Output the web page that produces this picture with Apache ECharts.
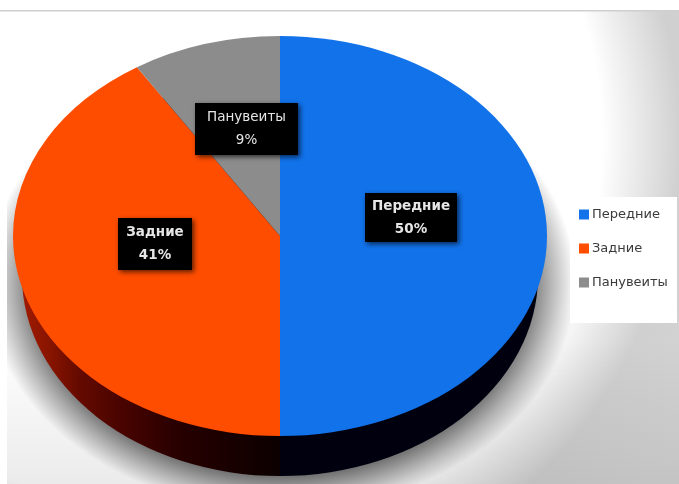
<!DOCTYPE html>
<html>
<head>
<meta charset="utf-8">
<style>html,body{margin:0;padding:0;background:#fff}#chart{width:679px;height:484px}</style>
<script src="https://cdn.jsdelivr.net/npm/echarts@6/dist/echarts.min.js"></script>
</head>
<body>
<div id="chart"></div>
<script>
// Wheel position shares, percent
const categories = ['Передние', 'Задние', 'Панувеиты'];
const shares = [50, 41, 9];
const sliceColors = ['#1172ea', '#ff4d00', '#8c8c8c'];

// Tilted disc geometry
const CX = 280, CY = 236, RX = 267, RY = 200;
const BASE_CY = 276, BASE_RX = 258;
const total = shares.reduce((a, b) => a + b, 0);

// Data label boxes: centre and size, with the weight of the text
const labelBoxes = [
  { x: 411, y: 217.5, w: 92, h: 49, weight: 'bold' },
  { x: 155, y: 244, w: 74, h: 52, weight: 'bold' },
  { x: 246.5, y: 129, w: 103, h: 52, weight: 'normal' }
];

function sliceAngles(i) {
  const before = shares.slice(0, i).reduce((a, b) => a + b, 0);
  const toRad = v => -Math.PI / 2 + (v / total) * Math.PI * 2;
  return { start: toRad(before), end: toRad(before + shares[i]) };
}

function ellipseSector(cy, rx, angles, style) {
  return {
    type: 'sector',
    x: CX, y: cy,
    scaleY: RY / rx,
    shape: { cx: 0, cy: 0, r: rx, r0: 0, startAngle: angles.start, endAngle: angles.end, clockwise: true },
    style
  };
}

// Rim below the top face: the first slice stays near black, the rest fades from dark red
const rimFills = [
  '#00000f',
  {
    type: 'linear', x: 0, y: 0, x2: 1, y2: 0,
    colorStops: [
      { offset: 0, color: '#a01a00' },
      { offset: 0.1, color: '#8a1500' },
      { offset: 0.22, color: '#650a00' },
      { offset: 0.38, color: '#4a0400' },
      { offset: 0.6, color: '#280000' },
      { offset: 0.9, color: '#120000' },
      { offset: 1, color: '#0c0000' }
    ]
  }
];

const rimSeries = {
  type: 'custom',
  name: 'rim',
  coordinateSystem: 'none',
  silent: true,
  z: 3,
  data: [[0]],
  renderItem: () => ({
    type: 'group',
    children: [
      ellipseSector(BASE_CY, BASE_RX, sliceAngles(0), { fill: rimFills[0] }),
      ellipseSector(BASE_CY, BASE_RX,
        { start: sliceAngles(1).start, end: sliceAngles(2).end }, { fill: rimFills[1] })
    ]
  })
};

const sliceSeries = categories.map((name, i) => ({
  type: 'custom',
  name,
  coordinateSystem: 'none',
  silent: true,
  z: 4,
  itemStyle: { color: sliceColors[i] },
  data: [[shares[i]]],
  renderItem: () => ellipseSector(CY, RX, sliceAngles(i), { fill: sliceColors[i] })
}));

const labelSeries = {
  type: 'custom',
  name: 'labels',
  coordinateSystem: 'none',
  silent: true,
  z: 6,
  data: categories.map((name, i) => [i]),
  renderItem: (params, api) => {
    const i = api.value(0);
    const b = labelBoxes[i];
    return {
      type: 'group',
      x: b.x, y: b.y,
      children: [
        {
          type: 'rect',
          shape: { x: -b.w / 2, y: -b.h / 2, width: b.w, height: b.h },
          style: { fill: '#000', shadowBlur: 5, shadowOffsetX: 2, shadowOffsetY: 2, shadowColor: 'rgba(0,0,0,0.65)' }
        },
        {
          type: 'text',
          style: {
            text: categories[i] + '\n' + shares[i] + '%',
            x: 0, y: 0,
            align: 'center', verticalAlign: 'middle',
            fill: '#e6e6e6',
            lineHeight: 23,
            font: b.weight + ' 13.5px "DejaVu Sans", sans-serif'
          }
        }
      ]
    };
  }
};

const chart = echarts.init(document.getElementById('chart'));
chart.setOption({
  animation: false,
  backgroundColor: '#ffffff',
  legend: {
    orient: 'vertical',
    left: 574, top: 203,
    icon: 'rect',
    itemWidth: 10, itemHeight: 10,
    itemGap: 21,
    z: 8,
    selectedMode: false,
    data: categories,
    textStyle: { color: '#3a3a3a', fontSize: 13, fontFamily: '"DejaVu Sans", sans-serif', padding: [0, 0, 0, -2] }
  },
  graphic: [
    {
      type: 'rect', z: 0,
      shape: { x: 7, y: 11, width: 672, height: 473 },
      style: {
        fill: {
          type: 'radial', global: true, x: 210, y: 140, r: 560,
          colorStops: [
            { offset: 0, color: '#ffffff' },
            { offset: 0.7, color: '#ffffff' },
            { offset: 0.84, color: '#d0d0d0' },
            { offset: 1, color: '#d4d4d4' }
          ]
        }
      }
    },
    {
      type: 'rect', z: 0,
      shape: { x: 7, y: 340, width: 672, height: 144 },
      style: {
        fill: {
          type: 'linear', x: 0, y: 0, x2: 0, y2: 1,
          colorStops: [
            { offset: 0, color: 'rgba(0,0,0,0)' },
            { offset: 1, color: 'rgba(0,0,0,0.08)' }
          ]
        }
      }
    },
    {
      // Soft drop shadow spreading out from under the disc
      type: 'circle', z: 1,
      x: 281, y: 283,
      scaleY: 228 / 295,
      shape: { cx: 0, cy: 0, r: 295 },
      style: {
        fill: {
          type: 'radial', x: 0.5, y: 0.5, r: 0.5,
          colorStops: [
            { offset: 0, color: 'rgba(0,0,0,0.55)' },
            { offset: 0.84, color: 'rgba(0,0,0,0.55)' },
            { offset: 0.91, color: 'rgba(0,0,0,0.3)' },
            { offset: 1, color: 'rgba(0,0,0,0)' }
          ]
        }
      }
    },
    { type: 'rect', z: 2, shape: { x: 0, y: 0, width: 7, height: 484 }, style: { fill: '#fff' } },
    { type: 'rect', z: 2, shape: { x: 0, y: 10, width: 679, height: 1.5 }, style: { fill: '#cfcfcf' } },
    { type: 'rect', z: 7, shape: { x: 570, y: 197, width: 107, height: 126 }, style: { fill: '#fff' } }
  ],
  series: [rimSeries, ...sliceSeries, labelSeries]
});
</script>
</body>
</html>
